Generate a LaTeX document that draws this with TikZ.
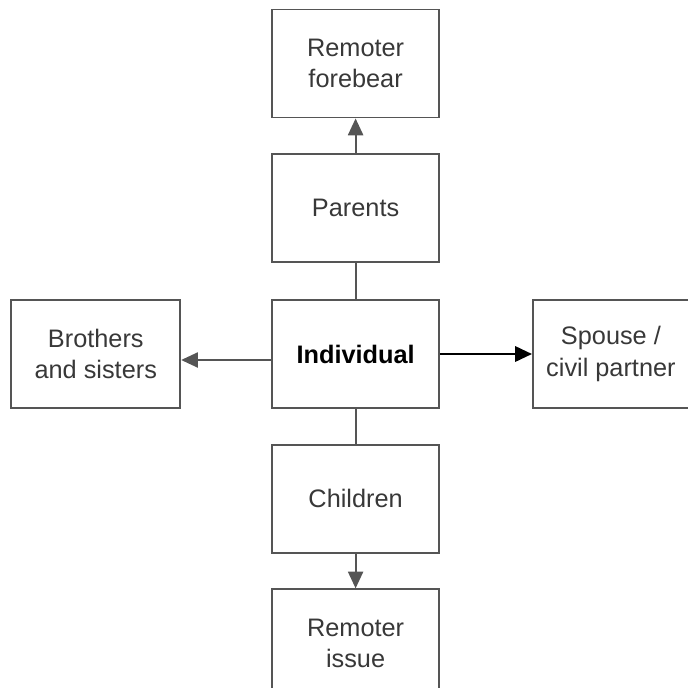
\documentclass[tikz,border=0pt]{standalone}
\usepackage{fontspec}
\setmainfont{Liberation Sans}
\usetikzlibrary{arrows.meta,positioning}
\definecolor{boxline}{HTML}{555555}
\definecolor{boxtext}{HTML}{383838}
\tikzstyle{kin}=[rectangle,draw=boxline,line width=1.3pt,text=boxtext,align=center,minimum width=4.175cm,minimum height=2.7cm,font=\fontsize{18}{22.5}\selectfont]
\tikzstyle{self}=[kin,text=black,font=\fontsize{18}{22.5}\selectfont\bfseries]
\tikzstyle{link}=[draw=boxline,line width=1.3pt]
\tikzstyle{arr}=[link,-{Triangle[length=0.42cm,width=0.38cm]}]

\begin{document}
\begin{tikzpicture}[node distance=0.87cm]
\useasboundingbox (0,0) rectangle (17.2,-17.2);
\clip (0,0) rectangle (17.2,-17.2);
\node[self] (I) at (8.89,-8.85) {Individual};
\node[kin, above=0.9cm of I] (P) {Parents};
\node[kin, above=of P] (RF) {Remoter\\forebear};
\node[kin, below=of I] (C) {Children};
\node[kin, below=of C] (RI) {Remoter\\issue};
\node[kin, minimum width=4.225cm, left=2.25cm of I] (B) {Brothers\\and sisters};
\node[kin, minimum width=3.9cm, right=2.3cm of I] (S) {Spouse /\\civil partner};
\draw[arr] (P) -- (RF);
\draw[link] (P) -- (I);
\draw[link] (I) -- (C);
\draw[arr] (C) -- (RI);
\draw[arr] ([yshift=-0.15cm]I.west) -- ([yshift=-0.15cm]B.east);
\draw[arr, draw=black, line width=1.8pt] (I) -- (S);
\end{tikzpicture}
\end{document}
